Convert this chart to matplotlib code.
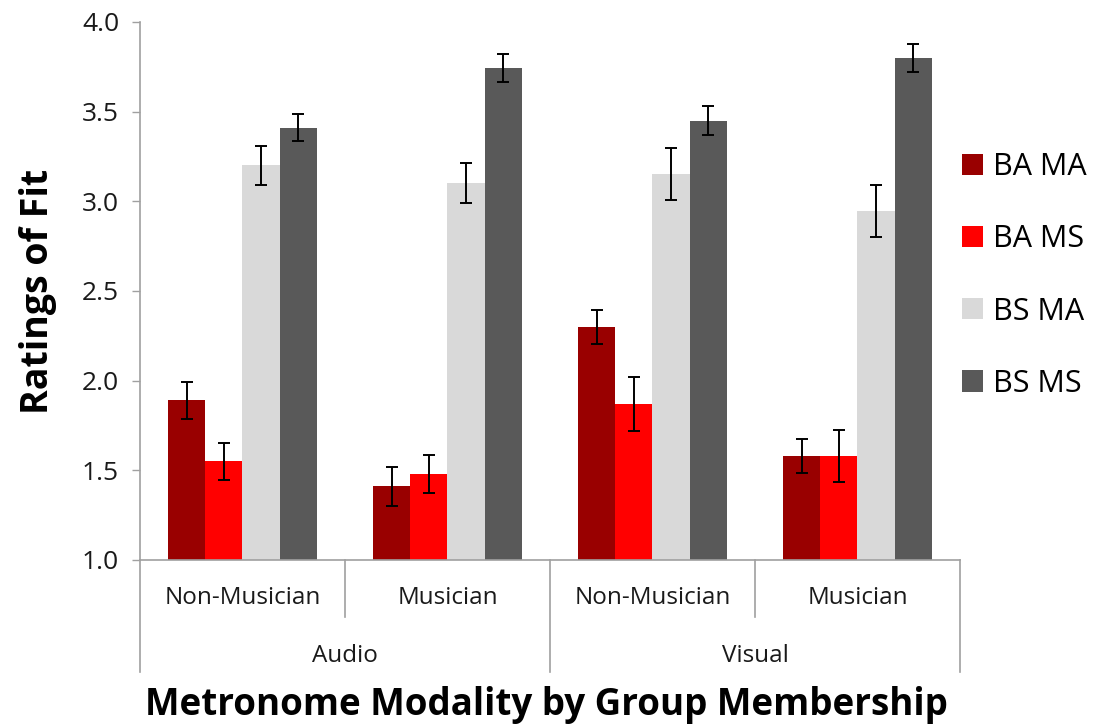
import numpy as np
import matplotlib
matplotlib.use("Agg")
import matplotlib.pyplot as plt
from matplotlib.lines import Line2D

plt.rcParams['font.family'] = ['Open Sans', 'DejaVu Sans']

# --- data ---
modalities = ["Audio", "Visual"]
groups = ["Non-Musician", "Musician", "Non-Musician", "Musician"]
series = ["BA MA", "BA MS", "BS MA", "BS MS"]

ba_ma = [1.89, 1.41, 2.30, 1.58]
ba_ms = [1.55, 1.48, 1.87, 1.58]
bs_ma = [3.20, 3.10, 3.15, 2.945]
bs_ms = [3.41, 3.745, 3.45, 3.80]

ba_ma_err = [0.105, 0.108, 0.093, 0.095]
ba_ms_err = [0.103, 0.105, 0.148, 0.145]
bs_ma_err = [0.108, 0.112, 0.145, 0.145]
bs_ms_err = [0.076, 0.077, 0.081, 0.077]

colors = ["#990000", "#ff0000", "#d9d9d9", "#595959"]

values = [ba_ma, ba_ms, bs_ma, bs_ms]
errors = [ba_ma_err, ba_ms_err, bs_ma_err, bs_ms_err]

# --- figure ---
fig = plt.figure(figsize=(10.98, 7.28), dpi=100)
ax = fig.add_axes([0.1275, 0.2308, 0.7468, 0.739])

x = np.arange(len(groups))
width = 0.182
for i, (vals, errs) in enumerate(zip(values, errors)):
    pos = x + (i - 1.5) * width
    ax.bar(pos, np.array(vals) - 1.0, width, bottom=1.0, color=colors[i],
           label=series[i], zorder=2)
    ax.errorbar(pos, vals, yerr=errs, fmt='none', ecolor='black',
                elinewidth=1.4, capsize=4.5, capthick=1.4, zorder=3)

ax.set_xlim(-0.5, len(groups) - 0.5)
ax.set_ylim(1.0, 4.0)
ticks = np.arange(1.0, 4.01, 0.5)
ax.set_yticks(ticks)
ax.set_yticklabels([f"{v:.1f}" for v in ticks])
ax.tick_params(axis='y', direction='out', length=6, width=1, color='#a0a0a0',
               labelsize=19, labelcolor='#1a1a1a', pad=9)
ax.set_xticks([])

for side in ['top', 'right']:
    ax.spines[side].set_visible(False)
for side in ['left', 'bottom']:
    ax.spines[side].set_color('#a0a0a0')
    ax.spines[side].set_linewidth(1.2)

# two-level category axis below the plot
trans = ax.get_xaxis_transform()
for b in [0.5, 2.5]:
    ax.add_line(Line2D([b, b], [0, -0.106], transform=trans, color='#a0a0a0',
                       lw=1.2, clip_on=False))
for b in [-0.5, 1.5, 3.5]:
    ax.add_line(Line2D([b, b], [0, -0.208], transform=trans, color='#a0a0a0',
                       lw=1.2, clip_on=False))
for xi, g in zip(x, groups):
    ax.text(xi, -0.071, g, transform=trans, ha='center', va='center',
            fontsize=17.5, color='#1a1a1a')
for k, m in enumerate(modalities):
    ax.text(2 * k + 0.5, -0.178, m, transform=trans, ha='center', va='center',
            fontsize=17.5, color='#1a1a1a')

ax.set_ylabel("Ratings of Fit", fontsize=27, fontweight='bold', labelpad=18)
fig.text(0.498, 0.031, "Metronome Modality by Group Membership",
         ha='center', va='center', fontsize=26.5, fontweight='bold')

ax.legend(loc='upper left', bbox_to_anchor=(1.0024, 0.758), frameon=False,
          fontsize=22, handlelength=0.69, handleheight=0.69, handletextpad=0.33,
          labelspacing=1.38, borderaxespad=0.0, borderpad=0.0)

fig.savefig("out.png", dpi=100)
